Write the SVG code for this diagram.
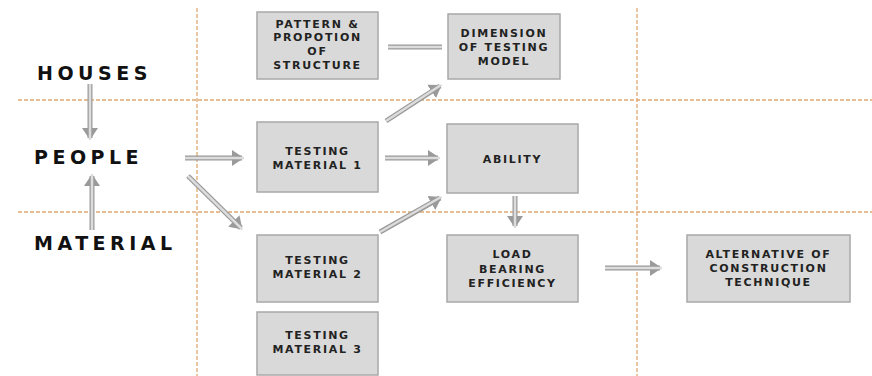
<svg xmlns="http://www.w3.org/2000/svg" width="872" height="376" viewBox="0 0 872 376">
<style>
.grid{stroke:#e0a870;stroke-width:1.3;stroke-dasharray:4 2;fill:none}
.box{fill:#d9d9d9;stroke:#a8a8a8;stroke-width:1.5}
.bt{font-family:"DejaVu Sans","Liberation Sans",Arial,sans-serif;font-weight:bold;font-size:11px;fill:#222;text-anchor:middle;letter-spacing:1.7px}
.lab{font-family:"DejaVu Sans","Liberation Sans",Arial,sans-serif;font-weight:bold;font-size:19px;fill:#111;letter-spacing:4.5px}
.co{stroke:#9a9a9a;stroke-width:5;fill:none}
.ci{stroke:#dcdcdc;stroke-width:2.5;fill:none}
</style>
<defs>
<marker id="ah" markerWidth="4" markerHeight="4" refX="2" refY="2" orient="auto" markerUnits="strokeWidth">
<path d="M0,0.4 L2.4,2 L0,3.6 Z" fill="#9a9a9a"/>
</marker>
</defs>
<rect width="872" height="376" fill="#ffffff"/>
<g id="grid">
<line class="grid" x1="197" y1="8" x2="197" y2="376"/>
<line class="grid" x1="637" y1="8" x2="637" y2="376"/>
<line class="grid" x1="18" y1="100" x2="872" y2="100"/>
<line class="grid" x1="18" y1="212" x2="872" y2="212"/>
</g>
<g id="labels">
<text class="lab" x="37" y="80">HOUSES</text>
<text class="lab" x="34" y="164">PEOPLE</text>
<text class="lab" x="34" y="250">MATERIAL</text>
</g>
<g id="connectors">
<line class="co" x1="90" y1="84" x2="90" y2="138" marker-end="url(#ah)"/>
<line class="ci" x1="90" y1="84" x2="90" y2="140"/>
<line class="co" x1="92" y1="230" x2="92" y2="176" marker-end="url(#ah)"/>
<line class="ci" x1="92" y1="230" x2="92" y2="174"/>
<line class="co" x1="185" y1="158" x2="242" y2="158" marker-end="url(#ah)"/>
<line class="ci" x1="185" y1="158" x2="244" y2="158"/>
<line class="co" x1="188" y1="176" x2="241" y2="228" marker-end="url(#ah)"/>
<line class="ci" x1="188" y1="176" x2="242" y2="229"/>
<line class="co" x1="388" y1="47" x2="442" y2="47"/>
<line class="ci" x1="388" y1="47" x2="442" y2="47"/>
<line class="co" x1="386" y1="121" x2="440" y2="86" marker-end="url(#ah)"/>
<line class="ci" x1="386" y1="121" x2="441" y2="85"/>
<line class="co" x1="385" y1="158" x2="438" y2="158" marker-end="url(#ah)"/>
<line class="ci" x1="385" y1="158" x2="440" y2="158"/>
<line class="co" x1="380" y1="232" x2="440" y2="198" marker-end="url(#ah)"/>
<line class="ci" x1="380" y1="232" x2="441" y2="197"/>
<line class="co" x1="515" y1="196" x2="515" y2="226" marker-end="url(#ah)"/>
<line class="ci" x1="515" y1="196" x2="515" y2="228"/>
<line class="co" x1="605" y1="268" x2="660" y2="268" marker-end="url(#ah)"/>
<line class="ci" x1="605" y1="268" x2="662" y2="268"/>
</g>
<g id="pattern">
<rect class="box" x="257" y="12" width="121" height="67"/>
<text class="bt" x="317.5" y="28">PATTERN &amp;</text>
<text class="bt" x="317.5" y="41">PROPOTION</text>
<text class="bt" x="317.5" y="55">OF</text>
<text class="bt" x="317.5" y="69">STRUCTURE</text>
</g>
<g id="dimension">
<rect class="box" x="448" y="14" width="112" height="65"/>
<text class="bt" x="504" y="37">DIMENSION</text>
<text class="bt" x="504" y="51">OF TESTING</text>
<text class="bt" x="504" y="65">MODEL</text>
</g>
<g id="testing1">
<rect class="box" x="257" y="122" width="121" height="70"/>
<text class="bt" x="317.5" y="155">TESTING</text>
<text class="bt" x="317.5" y="169">MATERIAL 1</text>
</g>
<g id="ability">
<rect class="box" x="447" y="124" width="131" height="69"/>
<text class="bt" x="512.5" y="163">ABILITY</text>
</g>
<g id="testing2">
<rect class="box" x="257" y="235" width="121" height="67"/>
<text class="bt" x="317.5" y="264">TESTING</text>
<text class="bt" x="317.5" y="278">MATERIAL 2</text>
</g>
<g id="testing3">
<rect class="box" x="257" y="312" width="121" height="63"/>
<text class="bt" x="317.5" y="339">TESTING</text>
<text class="bt" x="317.5" y="353">MATERIAL 3</text>
</g>
<g id="load">
<rect class="box" x="447" y="235" width="131" height="67"/>
<text class="bt" x="512.5" y="258">LOAD</text>
<text class="bt" x="512.5" y="273">BEARING</text>
<text class="bt" x="512.5" y="287">EFFICIENCY</text>
</g>
<g id="alternative">
<rect class="box" x="687" y="235" width="163" height="67"/>
<text class="bt" x="768.5" y="258">ALTERNATIVE OF</text>
<text class="bt" x="768.5" y="272">CONSTRUCTION</text>
<text class="bt" x="768.5" y="286">TECHNIQUE</text>
</g>
</svg>
